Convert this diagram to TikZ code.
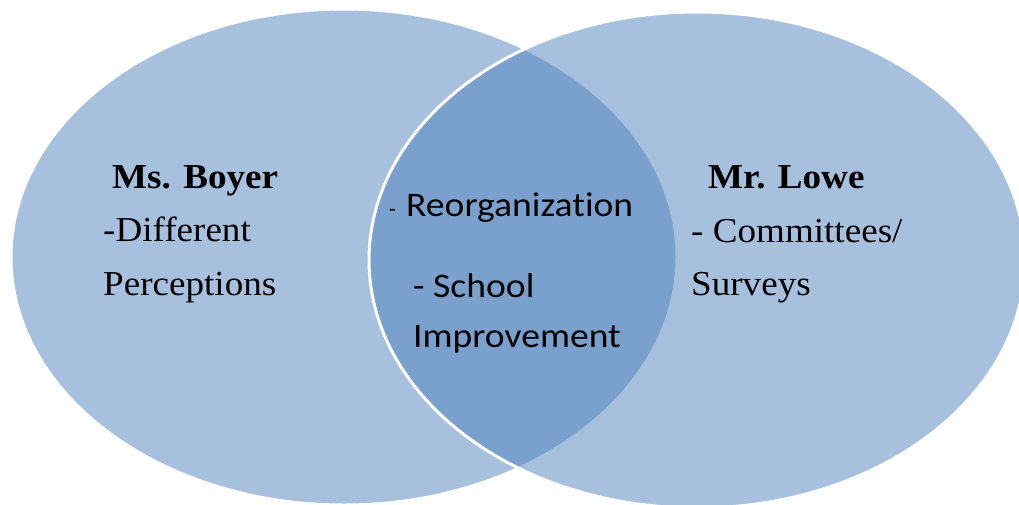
\documentclass[tikz,border=0pt]{standalone}
\usepackage{fontspec}
\setmainfont{Liberation Serif}
\newfontfamily\calfont[Ligatures=NoCommon]{Carlito}
\definecolor{vennblue}{HTML}{4F81BD}
% slightly widened lettering
\newcommand{\wideserif}[1]{\scalebox{1.06}[1]{#1}}
\newcommand{\widesans}[1]{\scalebox{1.09}[1]{#1}}
\begin{document}
\begin{tikzpicture}[x=1pt,y=-1pt,
  setbox/.style={fill=vennblue,fill opacity=0.5,draw=white,line width=3pt},
  serifbold/.style={inner sep=0pt,anchor=base west,font=\fontsize{35}{35}\selectfont\bfseries},
  seriftext/.style={inner sep=0pt,anchor=base west,font=\fontsize{35}{35}\selectfont},
  sanstext/.style={inner sep=0pt,anchor=base west,font=\fontsize{34.5}{34.5}\selectfont\calfont}]
\useasboundingbox (0,0) rectangle (1019,504);
% the two sets
\draw[setbox] (344,257) ellipse [x radius=333, y radius=248];
\draw[setbox] (697,260) ellipse [x radius=328, y radius=248];
% left set
\node[serifbold] (boyer) at (112,188) {\wideserif{Ms. Boyer}};
\node[seriftext] (diff) at (103,241) {\wideserif{-Different}};
\node[seriftext] (perc) at (103,295) {\wideserif{Perceptions}};
% right set
\node[serifbold] (lowe) at (708,188) {\wideserif{Mr. Lowe}};
\node[seriftext] (comm) at (691,242) {\wideserif{- Committees/}};
\node[seriftext] (surv) at (691,295) {\wideserif{Surveys}};
% overlap
\node[inner sep=0pt,anchor=base west,font=\fontsize{22}{22}\selectfont\calfont] (dash) at (389,216) {-};
\node[sanstext] (reorg) at (406,216) {\widesans{Reorganization}};
\node[sanstext] (school) at (413,297) {\widesans{- School}};
\node[sanstext] (impr) at (413,347) {\widesans{Improvement}};
\end{tikzpicture}
\end{document}
